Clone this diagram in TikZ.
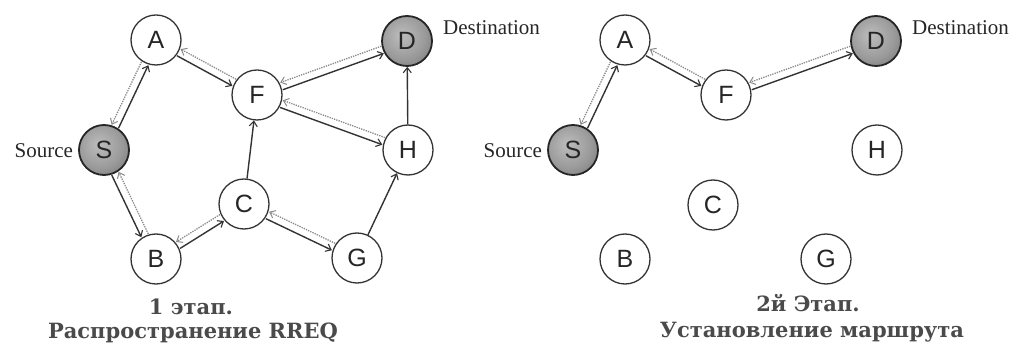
\documentclass[tikz,border=0pt]{standalone}
\usepackage{fontspec}
\setmainfont{Liberation Serif}
\newfontfamily\lblfont{Liberation Serif}
\newfontfamily\lettersf{Liberation Sans}
\newfontfamily\capfont{DejaVu Serif}
\usetikzlibrary{arrows.meta,calc}
\definecolor{edgedark}{HTML}{333333}
\definecolor{dotgray}{HTML}{8A8A8A}
\definecolor{capgray}{HTML}{4A4A4A}
\definecolor{shadein}{HTML}{BDBDBD}
\definecolor{shademid}{HTML}{9A9A9A}
\definecolor{shadeout}{HTML}{5E5E5E}
\pgfdeclareradialshading{nodeshade}{\pgfpoint{-6bp}{6bp}}{color(0bp)=(shadein); color(22bp)=(shademid); color(48bp)=(shadeout); color(70bp)=(shadeout)}
\def\noderad{26pt}
\def\pairoff{3.8pt}
\newcommand\laneline[3]{\draw[#1] ($(#2.center)!\noderad!(#3.center)!\pairoff!-90:(#3.center)$) -- ($(#3.center)!\noderad!(#2.center)!\pairoff!90:(#2.center)$);}
\newcommand\twoway[2]{\laneline{fwd}{#1}{#2}\laneline{rev}{#2}{#1}}
\tikzset{
  nd/.style={circle,draw=edgedark,line width=1.3pt,minimum size=50pt,inner sep=0pt,
    font=\lettersf\fontsize{25}{25}\selectfont,text=black!85,fill=white},
  gnd/.style={nd,draw=black!85,line width=1.8pt,shading=nodeshade},
  fwd/.style={draw=edgedark,line width=1.4pt,-{Straight Barb[length=5pt,width=8pt,line width=1.1pt]}},
  rev/.style={draw=dotgray,line width=1.3pt,dash pattern=on 1.3pt off 1.1pt,
    -{Straight Barb[length=5pt,width=8pt,line width=1pt]}},
  lbl/.style={inner sep=0pt,font=\lblfont\fontsize{21}{21}\selectfont,text=black!85},
  captxt/.style={inner sep=0pt,font=\capfont\bfseries\fontsize{21}{21}\selectfont,text=capgray}
}
\begin{document}
\begin{tikzpicture}[x=1pt,y=-1pt]
\useasboundingbox (0,0) rectangle (1019,344);
% ---------- stage 1 ----------
\begin{scope}
\node[nd]  (A) at (156,40) {A};
\node[nd]  (F) at (257,95) {F};
\node[gnd] (D) at (407,41) {D};
\node[gnd] (S) at (104,150) {S};
\node[nd]  (H) at (408,150) {H};
\node[nd]  (C) at (244,204) {C};
\node[nd]  (B) at (156,259) {B};
\node[nd]  (G) at (357,258) {G};
\node[lbl,anchor=base east] (srcl) at ([xshift=-5pt,yshift=-8pt]S.west) {Source};
\node[lbl,anchor=base west] (dstl) at ([xshift=10pt,yshift=6pt]D.east) {Destination};
\twoway{S}{A}
\twoway{A}{F}
\twoway{F}{D}
\twoway{F}{H}
\twoway{S}{B}
\twoway{B}{C}
\twoway{C}{G}
\draw[fwd] (H) -- (D);
\draw[fwd] (C) -- (F);
\draw[fwd] (G) -- (H);
\node[captxt,anchor=base] (c1a) at (191,314) {1 этап.};
\node[captxt,anchor=base] (c1b) at (193,338) {Распространение RREQ};
\end{scope}
% ---------- stage 2 ----------
\begin{scope}[xshift=469pt]
\node[nd]  (A2) at (156,40) {A};
\node[nd]  (F2) at (257,95) {F};
\node[gnd] (D2) at (407,41) {D};
\node[gnd] (S2) at (104,150) {S};
\node[nd]  (H2) at (408,150) {H};
\node[nd]  (C2) at (244,205) {C};
\node[nd]  (B2) at (156,259) {B};
\node[nd]  (G2) at (357,259) {G};
\node[lbl,anchor=base east] (srcr) at ([xshift=-5pt,yshift=-8pt]S2.west) {Source};
\node[lbl,anchor=base west] (dstr) at ([xshift=10pt,yshift=6pt]D2.east) {Destination};
\twoway{S2}{A2}
\twoway{A2}{F2}
\twoway{F2}{D2}
\node[captxt,anchor=base] (c2a) at (339,312) {2й Этап.};
\node[captxt,anchor=base] (c2b) at (343,337) {Установление маршрута};
\end{scope}
\end{tikzpicture}
\end{document}
